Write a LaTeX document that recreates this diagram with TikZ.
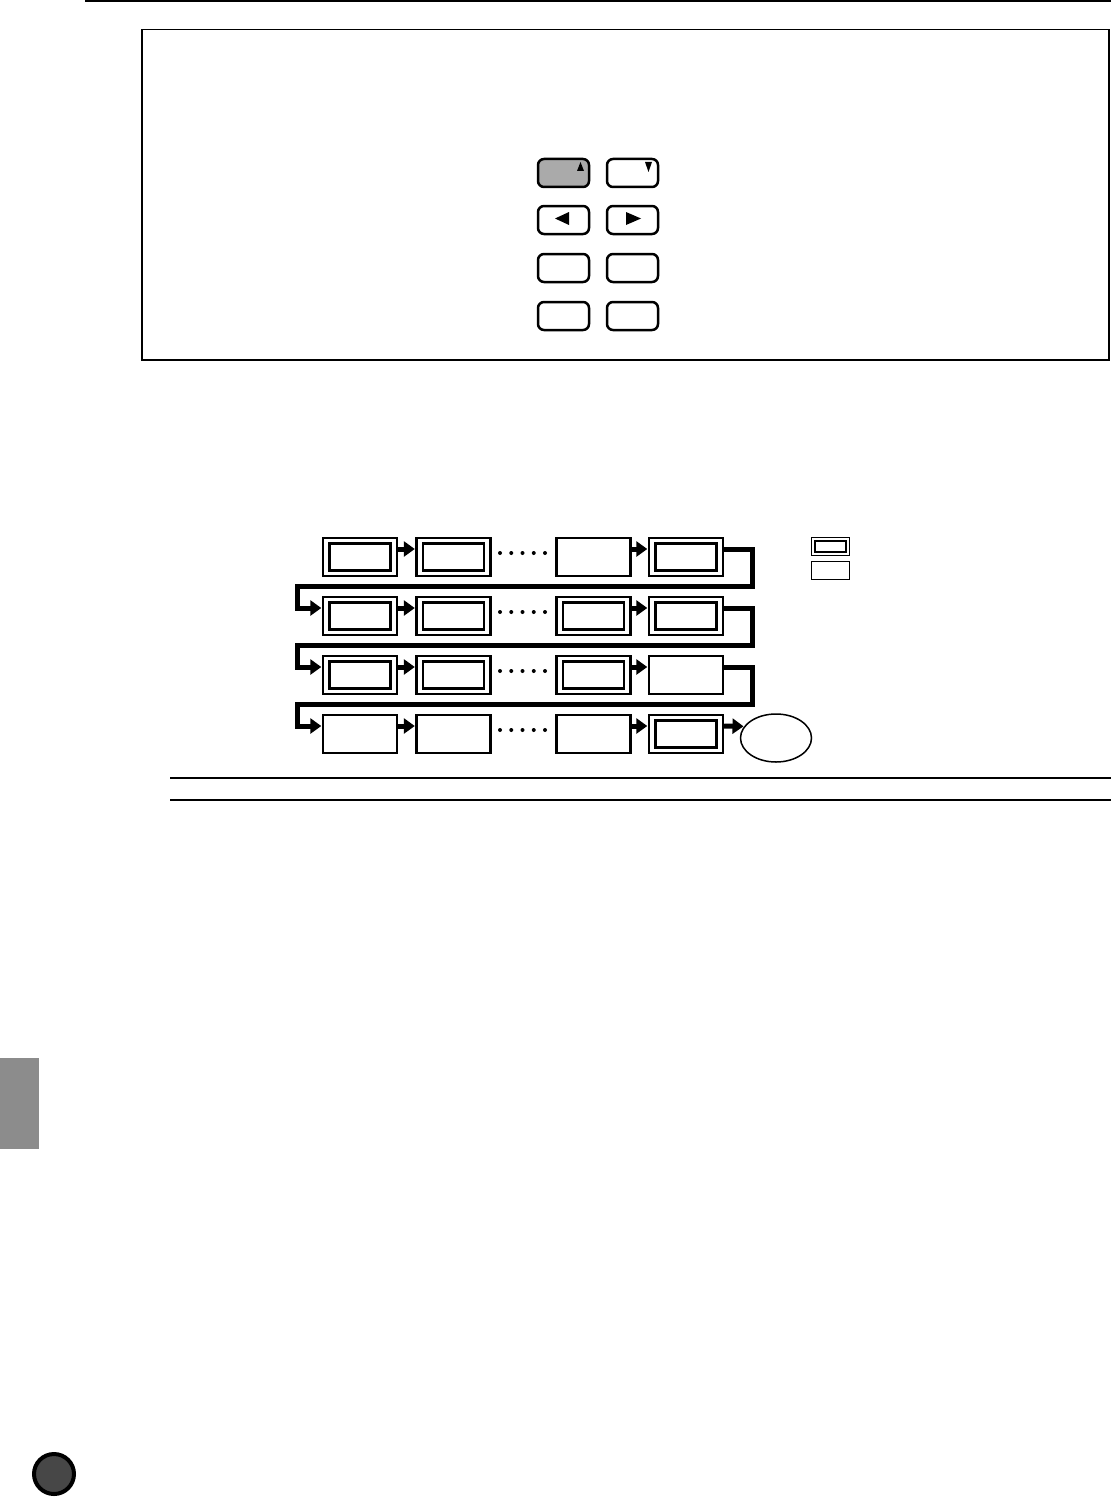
\documentclass[tikz,border=0pt]{standalone}
\usetikzlibrary{arrows.meta,shapes.geometric}
\definecolor{keygray}{RGB}{170,170,170}
\definecolor{tabgray}{RGB}{140,140,140}
\definecolor{dotgray}{RGB}{71,71,71}
\tikzset{
    panel key/.style={
        draw, line width=2.5pt, rounded corners=6pt,
        minimum width=51pt, minimum height=28pt, inner sep=0pt
    },
    single box/.style={
        draw, line width=2.4pt,
        minimum width=74pt, minimum height=38pt, inner sep=0pt
    },
    double box/.style={
        single box,
        path picture={
            \draw [line width=2.4pt]
            ([shift={(6.5pt,5.5pt)}]path picture bounding box.south west)
            rectangle
            ([shift={(-6.5pt,-5.5pt)}]path picture bounding box.north east);
        }
    },
    legend box/.style={
        draw, line width=1.5pt,
        minimum width=38pt, minimum height=18pt, inner sep=0pt
    },
    legend double/.style={
        legend box,
        path picture={
            \draw [line width=1.5pt]
            ([shift={(3.5pt,3.5pt)}]path picture bounding box.south west)
            rectangle
            ([shift={(-3.5pt,-3.5pt)}]path picture bounding box.north east);
        }
    },
    flow/.style={
        line width=5pt, line join=miter,
        -{Triangle[length=11pt,width=15pt]}, shorten >=0.5pt
    }
}

\begin{document}
\begin{tikzpicture}[x=1pt,y=-1pt]
    \useasboundingbox (0,0) rectangle (1111,1498);

    % page rules and frame
    \draw [line width=1.5pt] (85,1) -- (1111,1);
    \draw [line width=1.2pt] (142,29.5) rectangle (1109,360);
    \draw [line width=1.5pt] (170,778) -- (1111,778);
    \draw [line width=1.5pt] (170,800) -- (1111,800);

    % panel keys
    \node [panel key, fill=keygray] (K11) at (563.5,173) {};
    \node [panel key] (K12) at (632.5,173) {};
    \node [panel key] (K21) at (563.5,220) {};
    \node [panel key] (K22) at (632.5,220) {};
    \node [panel key] (K31) at (563.5,268) {};
    \node [panel key] (K32) at (632.5,268) {};
    \node [panel key] (K41) at (563.5,316) {};
    \node [panel key] (K42) at (632.5,316) {};
    \fill (577,171) -- (584,171) -- (580.5,162) -- cycle;
    \fill (645,162) -- (652,162) -- (648.5,172) -- cycle;
    \fill (569,212) -- (569,225) -- (555,218.5) -- cycle;
    \fill (626,212) -- (626,225) -- (641,218.5) -- cycle;

    % flow boxes
    \node [double box] (B11) at (360,557) {};
    \node [double box] (B12) at (453.5,557) {};
    \node [single box] (B13) at (593.5,557) {};
    \node [double box] (B14) at (686,557) {};

    \node [double box] (B21) at (360,616) {};
    \node [double box] (B22) at (453.5,616) {};
    \node [double box] (B23) at (593.5,616) {};
    \node [double box] (B24) at (686,616) {};

    \node [double box] (B31) at (360,675) {};
    \node [double box] (B32) at (453.5,675) {};
    \node [double box] (B33) at (593.5,675) {};
    \node [single box] (B34) at (686,675) {};

    \node [single box] (B41) at (360,734) {};
    \node [single box] (B42) at (453.5,734) {};
    \node [single box] (B43) at (593.5,734) {};
    \node [double box] (B44) at (686,734) {};

    \node [draw, ellipse, line width=1.5pt, minimum width=71pt,
        minimum height=48pt, inner sep=0pt] (E) at (776,738) {};

    % legend
    \node [legend double] (L1) at (830.5,546.5) {};
    \node [legend box] (L2) at (830.5,570.5) {};

    % turn points
    \coordinate (R1) at (752,586.5);
    \coordinate (T1) at (297,586.5);
    \coordinate (R2) at (752,645.5);
    \coordinate (T2) at (297,645.5);
    \coordinate (R3) at (752,704.5);
    \coordinate (T3) at (297,704.5);

    % arrows
    \foreach \r in {1,2,3,4}{
        \draw [flow] ([yshift=8pt]B\r1.east) -- ([yshift=8pt]B\r2.west);
        \draw [flow] ([yshift=8pt]B\r3.east) -- ([yshift=8pt]B\r4.west);
    }
    \draw [flow] ([yshift=8pt]B14.east) -| (R1) -- (T1) |- ([yshift=8pt]B21.west);
    \draw [flow] ([yshift=8pt]B24.east) -| (R2) -- (T2) |- ([yshift=8pt]B31.west);
    \draw [flow] ([yshift=8pt]B34.east) -| (R3) -- (T3) |- ([yshift=8pt]B41.west);
    \draw [flow] ([yshift=8pt]B44.east) -- (E.160);

    % dots
    \foreach \y in {553,612,671,730}{
        \foreach \i in {0,...,4}{
            \fill (500+11.25*\i,\y) circle (2pt);
        }
    }

    % side tab and page mark
    \fill [tabgray] (0,1058) rectangle (39,1149);
    \draw [line width=4pt, fill=dotgray] (54,1474) circle (20pt);
\end{tikzpicture}
\end{document}
